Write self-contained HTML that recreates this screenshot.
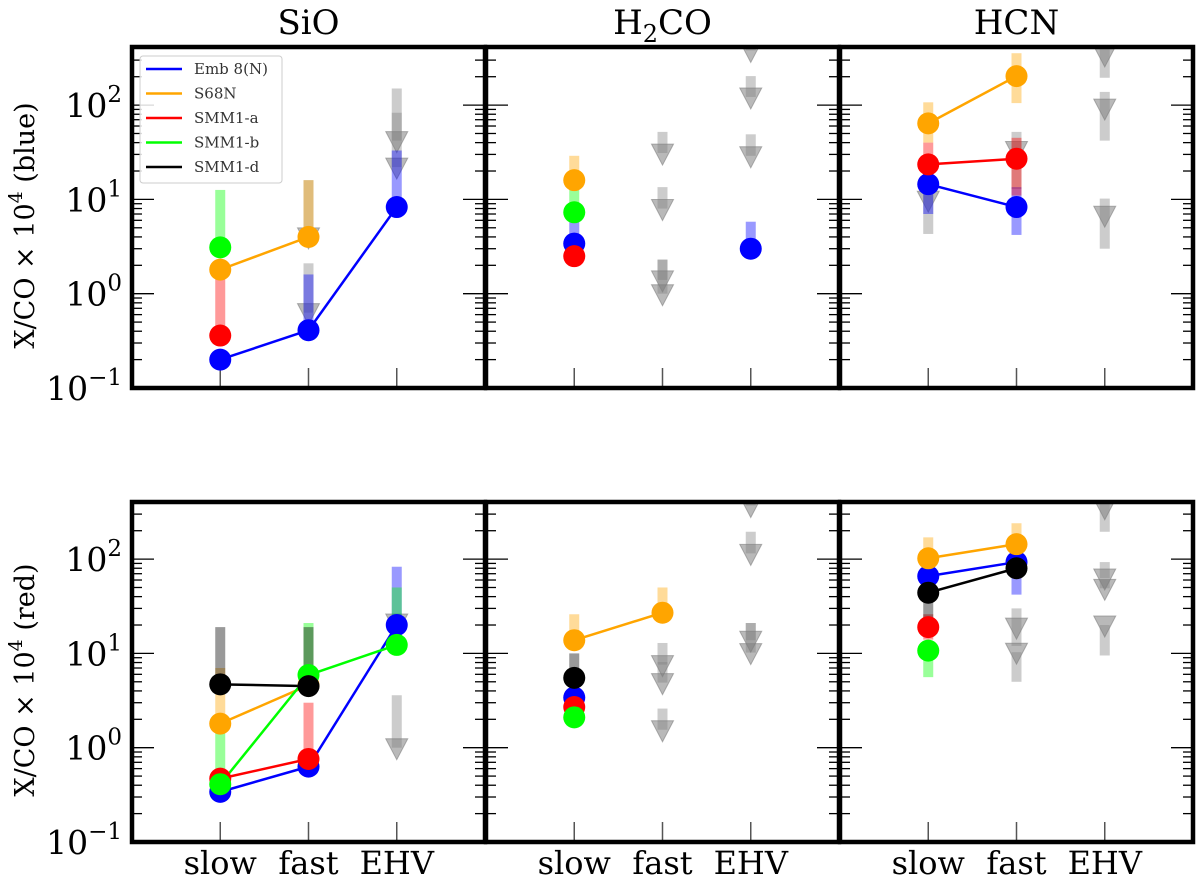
<!DOCTYPE html>
<html><head><meta charset="utf-8"><style>
html,body{margin:0;padding:0;background:#fff;}
svg{display:block;font-family:"DejaVu Serif","Liberation Serif",serif;}
</style></head><body>
<svg id="chart" width="1200" height="881" viewBox="0 0 1200 881" xmlns="http://www.w3.org/2000/svg"></svg>
<script>
const categories = ["slow","fast","EHV"];
const molecules = ["SiO","H2CO","HCN"];
const rows = ["blue","red"];
const seriesNames = ["Emb 8(N)","S68N","SMM1-a","SMM1-b","SMM1-d"];
const seriesColors = ["#0000ff","#ffa500","#ff0000","#00ff00","#000000"];
const yTickExps = [-1,0,1,2];

// values per panel [row][mol][series] -> per category (null = none)
const values = [
 [ // blue row
  [[0.2,0.41,8.3],[1.8,4.0,null],[0.36,null,null],[3.1,null,null],[null,null,null]],
  [[3.4,null,3.0],[16,null,null],[2.5,null,null],[7.3,null,null],[null,null,null]],
  [[14.5,8.3,null],[64,203,null],[23.5,27,null],[null,null,null],[null,null,null]]
 ],
 [ // red row
  [[0.34,0.63,20],[1.8,4.6,null],[0.47,0.76,null],[0.41,5.9,12.3],[4.7,4.5,null]],
  [[3.4,null,null],[13.8,27,null],[2.7,null,null],[2.1,null,null],[5.5,null,null]],
  [[66,93,null],[102,144,null],[19,null,null],[10.7,null,null],[44,80,null]]
 ]
];
// error bar upper ends
const errHi = [
 [
  [[null,1.6,33],[null,16,null],[1.5,null,null],[12.6,null,null],[null,null,null]],
  [[5.8,null,5.8],[29,null,null],[null,null,null],[13,null,null],[null,null,null]],
  [[19,13.5,null],[107,355,null],[40,45,null],[null,null,null],[null,null,null]]
 ],
 [
  [[null,null,83],[7,null,null],[null,3,null],[1.7,21,50],[19,19,null]],
  [[null,null,null],[26,50,null],[null,null,null],[null,null,null],[10,null,null]],
  [[null,110,null],[170,240,null],[26,null,null],[null,null,null],[null,null,null]]
 ]
];
// error bar lower ends
const errLo = [
 [
  [[null,null,null],[null,null,null],[null,null,null],[null,null,null],[null,null,null]],
  [[null,null,null],[null,null,null],[null,null,null],[null,null,null],[null,null,null]],
  [[7,4.2,null],[40,105,null],[14,11,null],[null,null,null],[null,null,null]]
 ],
 [
  [[null,null,null],[null,null,null],[null,null,null],[null,null,null],[null,null,null]],
  [[null,null,null],[null,null,null],[null,null,null],[null,null,null],[null,null,null]],
  [[null,42,null],[null,null,null],[14,null,null],[5.6,null,null],[19,null,null]]
 ]
];
// upper limits: [categoryIndex, value, barTop, barBottom]
const limits = [
 [
  [[1,0.63,2.1,0.63],[1,4.0,16,4.0],[2,42,150,42],[2,22,83,22]],
  [[1,31,52,31],[1,8,13.5,8],[1,1.4,2.3,1.4],[1,1.0,2.3,1.0],[2,122,203,122],[2,29,49,29],[2,380,600,380]],
  [[0,9.8,18.6,4.3],[1,33,52,12.9],[2,340,600,195],[2,93,138,42],[2,6.8,10.2,3.0]]
 ],
 [
  [[2,1.0,3.6,1.0],[2,21,25,21]],
  [[1,7.6,12.9,7.6],[1,4.9,8.1,4.9],[1,1.55,2.6,1.55],[2,115,195,115],[2,13.8,21,13.8],[2,10.2,21,10.2],[2,370,600,370]],
  [[1,19,30,12],[1,10.3,10.3,5],[2,63,93,63],[2,49,60,49],[2,20,20,9.5],[2,350,600,195]]
 ]
];

const svg = document.getElementById('chart');
const NS = "http://www.w3.org/2000/svg";
function mk(tag, attrs, parent){const e=document.createElementNS(NS,tag);for(const k in attrs)e.setAttribute(k,attrs[k]);(parent||svg).appendChild(e);return e;}

const panelX = [132,486,840];
const panelW = 353;
const panelTop = [47,502];
const panelBot = [388,842];
const decade = 94.3;
function yScale(row,v){ return panelBot[row] - (Math.log10(v)+1)*decade; }
function xScale(col,i){ return panelX[col] + (i+1)*panelW/4; }

for(let r=0;r<2;r++){
 for(let c=0;c<3;c++){
  const g = mk('g',{});
  
  
  const clipId='clip'+r+c;
  const cp=mk('clipPath',{id:clipId},g);
  mk('rect',{x:panelX[c],y:panelTop[r],width:panelW,height:panelBot[r]-panelTop[r]},cp);
  const tg=mk('g',{stroke:'#000','stroke-width':1.3},g);
  
  
  for(let e=-1;e<=2;e++){
   for(let m=1;m<=9;m++){
    const v=m*Math.pow(10,e);
    const y=yScale(r,v);
    if(y<panelTop[r]+2||y>panelBot[r]-1) continue;
    const L = m===1?22:10;
    mk('line',{x1:panelX[c],x2:panelX[c]+L,y1:y,y2:y},tg);
    mk('line',{x1:panelX[c]+panelW,x2:panelX[c]+panelW-L,y1:y,y2:y},tg);
   }
  }
  categories.forEach((cat,i)=>{
   const x=xScale(c,i);
   const t=mk('line',{x1:x,x2:x,y1:panelBot[r],y2:panelBot[r]-20,stroke:'#555','stroke-width':1.5},g);
   
   
  });
  const data=mk('g',{'clip-path':'url(#'+clipId+')'},g);
  limits[r][c].forEach(l=>{
   const x=xScale(c,l[0]);
   const yt=yScale(r,l[2]), yb=yScale(r,l[3]), yv=yScale(r,l[1]);
   const b=mk('rect',{x:x-5,y:yt,width:10,height:Math.max(1,yb-yt),fill:'#808080','fill-opacity':0.4},data);
   
   
   const tri=mk('path',{d:`M${x-11},${yv-9} L${x+11},${yv-9} L${x},${yv+12} Z`,fill:'#808080','fill-opacity':0.55,stroke:'#808080','stroke-opacity':0.6},data);
   
   
  });
  for(let s=0;s<5;s++){
   for(let i=0;i<3;i++){
    const v=values[r][c][s][i]; if(v==null) continue;
    const hi=errHi[r][c][s][i], lo=errLo[r][c][s][i];
    if(hi==null&&lo==null) continue;
    const yt=yScale(r,hi==null?v:hi), yb=yScale(r,lo==null?v:lo);
    const eb=mk('rect',{x:xScale(c,i)-5,y:yt,width:10,height:yb-yt,fill:seriesColors[s],'fill-opacity':0.4},data);
    
    
   }
  }
  for(let s=0;s<5;s++){
   const vs=values[r][c][s];
   for(let i=0;i<2;i++){
    if(vs[i]!=null&&vs[i+1]!=null){
     const ln=mk('line',{x1:xScale(c,i),y1:yScale(r,vs[i]),x2:xScale(c,i+1),y2:yScale(r,vs[i+1]),stroke:seriesColors[s],'stroke-width':2.5},data);
     
     
    }
   }
  }
  for(let s=0;s<5;s++){
   for(let i=0;i<3;i++){
    const v=values[r][c][s][i]; if(v==null) continue;
    const p=mk('circle',{cx:xScale(c,i),cy:yScale(r,v),r:11,fill:seriesColors[s]},data);
    
    
   }
  }
  const fr=mk('rect',{x:panelX[c],y:panelTop[r],width:panelW,height:panelBot[r]-panelTop[r],fill:'none',stroke:'#000','stroke-width':4.5},g);
  
  
 }
 yTickExps.forEach(e=>{
  const y=yScale(r,Math.pow(10,e));
  const t=mk('text',{x:122,y:y+12,'text-anchor':'end','font-size':33,fill:'#000'});
  
  
  t.innerHTML='10<tspan dy="-15" font-size="23">'+(e<0?'\u2212'+(-e):e)+'</tspan>';
 });
 const yl=mk('text',{transform:`translate(34,${(panelTop[r]+panelBot[r])/2+8}) rotate(-90)`,'text-anchor':'middle','font-size':27,fill:'#000'});
 
 
 yl.innerHTML='X/CO \u00d7 10<tspan dy="-12" font-size="19">4</tspan><tspan dy="12"> ('+rows[r]+')</tspan>';
}
molecules.forEach((m,c)=>{
 const t=mk('text',{x:panelX[c]+panelW/2,y:34,'text-anchor':'middle','font-size':34,fill:'#000'});
 
 
 if(m==='H2CO') t.innerHTML='H<tspan dy="8" font-size="24">2</tspan><tspan dy="-8">CO</tspan>';
 else t.textContent=m;
 categories.forEach((cat,i)=>{
  const l=mk('text',{x:xScale(c,i),y:874,'text-anchor':'middle','font-size':32,fill:'#000'});
  
  
  l.textContent=cat;
 });
});
const lg=mk('g',{});


mk('rect',{x:140,y:56,width:142,height:127,rx:3,fill:'#fff','fill-opacity':0.85,stroke:'#ccc','stroke-width':1},lg);
seriesNames.forEach((n,s)=>{
 const y=69+s*24.5;
 const e=mk('g',{},lg);
 
 
 mk('line',{x1:146,x2:182,y1:y,y2:y,stroke:seriesColors[s],'stroke-width':2.5},e);
 const t=mk('text',{x:194,y:y+5,'font-size':15,fill:'#333'},e);
 t.textContent=n;
});
</script>
</body></html>
